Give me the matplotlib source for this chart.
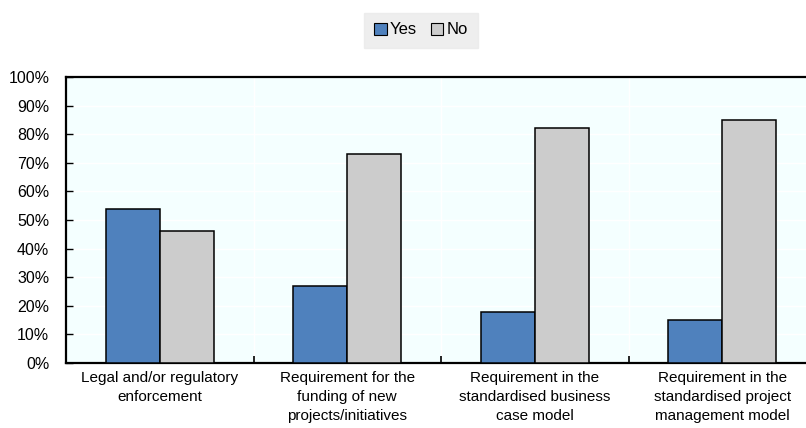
import numpy as np
import matplotlib.pyplot as plt
from matplotlib.ticker import FixedLocator

categories = ["Legal and/or regulatory\nenforcement",
              "Requirement for the\nfunding of new\nprojects/initiatives",
              "Requirement in the\nstandardised business\ncase model",
              "Requirement in the\nstandardised project\nmanagement model"]
yes = [54, 27, 18, 15]
no = [46, 73, 82, 85]
series = ["Yes", "No"]
colors = ["#4F81BD", "#CCCCCC"]

plt.rcParams['font.family'] = ['Liberation Sans', 'DejaVu Sans']

fig = plt.figure(figsize=(8.06, 4.28), dpi=100)
ax = fig.add_axes([66 / 806, 1 - 363 / 428, 750 / 806, 286 / 428])
ax.set_facecolor("#F4FFFF")

x = np.arange(len(categories))
w = 0.288
ax.bar(x - w / 2, yes, w, color=colors[0], edgecolor="black", linewidth=1.1, label=series[0], zorder=3)
ax.bar(x + w / 2, no, w, color=colors[1], edgecolor="black", linewidth=1.1, label=series[1], zorder=3)

ax.set_xlim(-0.5, len(categories) - 0.5)
ax.set_ylim(0, 100)
ax.set_yticks(np.arange(0, 101, 10))
ax.set_yticklabels([f"{v}%" for v in range(0, 101, 10)], fontsize=11.5)
ax.set_xticks(x)
ax.set_xticklabels(categories, fontsize=11, linespacing=1.45)
ax.tick_params(axis='x', length=0, pad=6)
ax.xaxis.set_minor_locator(FixedLocator(x[:-1] + 0.5))
ax.tick_params(axis='x', which='minor', direction='in', length=5, width=1.2)
ax.tick_params(axis='y', direction='in', length=5, width=1, pad=12)

ax.grid(axis='y', color='white', linewidth=1, zorder=0)
for b in x[:-1] + 0.5:
    ax.axvline(b, color='white', linewidth=1, zorder=0)

for s in ['left', 'bottom', 'top']:
    ax.spines[s].set_linewidth(1.6)
    ax.spines[s].set_color('black')
ax.spines['right'].set_visible(False)

leg = fig.legend(loc='center', bbox_to_anchor=(421 / 806, 1 - 30 / 428), ncol=2,
                 frameon=True, fontsize=12, handlelength=0.75, handleheight=0.75,
                 handletextpad=0.2, columnspacing=0.8, borderpad=0.6)
leg.get_frame().set_facecolor("#EAEAEA")
leg.get_frame().set_edgecolor("#EAEAEA")
leg.get_frame().set_boxstyle("square", pad=0)
for h in leg.legend_handles:
    h.set_linewidth(0.8)

fig.savefig("out.png", dpi=100)
